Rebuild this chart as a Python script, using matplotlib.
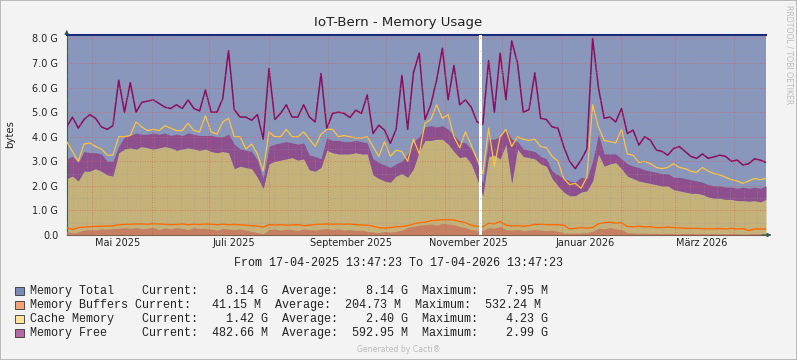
"""IoT-Bern memory usage graph (rrdtool / Cacti look) rebuilt with matplotlib."""

import datetime as dt

import numpy as np
import matplotlib

matplotlib.use("Agg")  # headless backend
import matplotlib.pyplot as plt
from matplotlib.patches import Rectangle

# ── data (values in G, evenly sampled over the whole year) ──────────────────
START = dt.datetime(2025, 4, 17, 13, 47, 23)
END = dt.datetime(2026, 4, 17, 13, 47, 23)
GAP = (dt.datetime(2025, 11, 18, 23, 0), dt.datetime(2025, 11, 20, 14, 0))

total_g = 8.14

# dark magenta line
free_max_g = [
    4.4, 4.8, 4.35, 4.7, 4.9, 4.75, 4.4, 4.3, 4.45, 6.3,
    5.0, 6.2, 5.0, 5.4, 5.45, 5.5, 5.35, 5.2, 5.15, 5.3,
    5.15, 5.5, 5.15, 5.05, 5.9, 5.0, 5.0, 5.55, 7.5, 5.1,
    4.8, 4.8, 4.67, 4.9, 3.9, 6.78, 4.7, 4.95, 5.3, 4.8,
    4.8, 5.3, 4.8, 4.6, 6.57, 4.34, 4.95, 5.0, 4.95, 4.78,
    5.08, 4.95, 5.7, 4.13, 4.47, 4.27, 3.73, 4.3, 6.5, 4.3,
    6.6, 7.4, 4.7, 5.3, 6.3, 7.6, 5.5, 6.9, 5.3, 5.5,
    5.2, 4.6, 4.5, 7.1, 5.0, 7.4, 5.5, 7.9, 7.0, 5.0,
    5.1, 6.6, 4.75, 4.7, 4.4, 4.35, 3.6, 3.0, 2.7, 3.05,
    3.5, 8.0, 6.0, 4.75, 4.8, 4.6, 5.15, 4.13, 4.27, 3.66,
    4.0, 3.86, 3.46, 3.4, 3.25, 3.52, 3.6, 3.4, 3.2, 3.12,
    3.3, 3.12, 3.18, 3.25, 3.2, 3.0, 3.05, 2.85, 2.9, 3.1,
    3.05, 2.95,
]

# yellow line
cache_max_g = [
    3.8, 3.4, 3.0, 3.7, 3.75, 3.6, 3.5, 3.25, 3.25, 4.0,
    4.0, 4.05, 4.6, 4.4, 4.25, 4.3, 4.25, 4.45, 4.35, 4.25,
    4.25, 4.55, 4.25, 4.2, 4.85, 4.2, 4.1, 4.6, 4.75, 4.0,
    4.0, 3.5, 3.7, 3.3, 2.6, 4.2, 4.0, 4.0, 4.3, 4.0,
    4.0, 4.2, 3.9, 3.6, 4.1, 4.3, 4.3, 4.0, 4.05, 4.0,
    3.95, 3.95, 4.0, 3.6, 3.2, 3.8, 3.2, 3.45, 3.4, 3.0,
    3.9, 3.3, 4.55, 4.7, 5.3, 4.75, 4.9, 4.0, 3.55, 4.2,
    3.65, 3.1, 2.5, 4.35, 2.8, 4.0, 4.3, 3.6, 4.0, 3.9,
    3.85, 3.9, 3.6, 3.55, 3.2, 3.0, 2.3, 2.05, 2.1, 1.9,
    2.35, 5.3, 4.4, 3.85, 3.8, 3.75, 4.3, 3.3, 3.25, 2.95,
    3.0, 2.9, 2.75, 2.7, 2.75, 2.9, 2.75, 2.7, 2.6, 2.55,
    2.75, 2.6, 2.5, 2.45, 2.35, 2.25, 2.2, 2.1, 2.2, 2.3,
    2.25, 2.3,
]

# top of the purple (free) band
free_top_g = [
    3.1, 3.2, 2.95, 3.4, 3.35, 3.35, 3.3, 3.0, 3.0, 3.6,
    4.0, 4.05, 4.15, 4.1, 4.1, 4.15, 4.1, 4.15, 4.05, 4.1,
    4.05, 4.15, 4.1, 4.05, 4.05, 4.05, 4.0, 4.0, 4.1, 3.7,
    3.5, 3.45, 3.4, 3.05, 2.3, 3.6, 3.7, 3.75, 3.8, 3.75,
    3.7, 3.75, 3.25, 3.2, 3.1, 3.95, 3.85, 3.85, 3.8, 3.8,
    3.85, 3.8, 3.75, 3.1, 2.95, 2.85, 2.75, 2.9, 3.0, 3.3,
    3.8, 4.0, 4.4, 4.45, 4.4, 4.45, 4.3, 4.05, 3.8, 3.75,
    3.5, 3.0, 2.1, 3.9, 3.9, 4.0, 4.3, 3.9, 3.8, 3.5,
    3.45, 3.4, 3.2, 3.1, 2.6, 2.45, 2.3, 2.2, 2.15, 2.35,
    2.3, 3.0, 4.1, 3.3, 3.3, 3.3, 3.1, 2.9, 2.8, 2.75,
    2.65, 2.6, 2.55, 2.5, 2.5, 2.35, 2.35, 2.3, 2.25, 2.2,
    2.15, 2.05, 2.0, 2.0, 1.95, 1.95, 1.9, 1.95, 1.9, 1.95,
    1.9, 2.0,
]

# top of the tan (cache) area
cache_g = [
    2.3, 2.4, 2.2, 2.6, 2.6, 2.7, 2.6, 2.45, 2.4, 3.35,
    3.5, 3.55, 3.5, 3.6, 3.55, 3.5, 3.55, 3.6, 3.55, 3.45,
    3.5, 3.55, 3.5, 3.45, 3.5, 3.4, 3.35, 3.4, 3.35, 2.7,
    2.8, 2.75, 2.7, 2.35, 1.9, 2.9, 3.0, 3.05, 3.1, 3.15,
    3.05, 3.1, 2.65, 2.6, 2.75, 3.45, 3.35, 3.3, 3.3, 3.3,
    3.35, 3.3, 3.3, 2.45, 2.3, 2.2, 2.15, 2.4, 2.5, 2.35,
    2.7, 3.4, 3.85, 3.85, 3.9, 3.9, 3.7, 3.4, 3.15, 3.2,
    2.9, 2.3, 1.6, 3.2, 3.25, 3.1, 3.7, 2.1, 3.5, 3.2,
    3.15, 3.1, 2.9, 2.8, 2.3, 2.0, 1.75, 1.6, 1.6, 1.75,
    1.8, 2.2, 3.3, 2.8, 2.9, 2.95, 2.7, 2.4, 2.3, 2.2,
    2.15, 2.1, 2.05, 2.0, 2.0, 1.85, 1.8, 1.75, 1.7, 1.7,
    1.65, 1.55, 1.5, 1.5, 1.45, 1.45, 1.4, 1.4, 1.38, 1.4,
    1.35, 1.45,
]

# orange line
buffers_max_g = [
    0.3, 0.22, 0.3, 0.32, 0.34, 0.35, 0.36, 0.36, 0.37, 0.42,
    0.43, 0.44, 0.45, 0.45, 0.44, 0.46, 0.45, 0.44, 0.42, 0.43,
    0.45, 0.42, 0.44, 0.43, 0.45, 0.44, 0.42, 0.44, 0.42, 0.43,
    0.42, 0.4, 0.38, 0.36, 0.32, 0.42, 0.41, 0.42, 0.4, 0.41,
    0.42, 0.38, 0.4, 0.43, 0.44, 0.45, 0.44, 0.45, 0.44, 0.45,
    0.42, 0.41, 0.4, 0.36, 0.3, 0.28, 0.3, 0.33, 0.35, 0.38,
    0.45, 0.5, 0.52, 0.58, 0.6, 0.62, 0.62, 0.61, 0.55, 0.5,
    0.4, 0.35, 0.33, 0.48, 0.45, 0.55, 0.4, 0.37, 0.38, 0.36,
    0.38, 0.43, 0.44, 0.42, 0.42, 0.42, 0.4, 0.25, 0.27, 0.3,
    0.28, 0.3, 0.45, 0.5, 0.52, 0.48, 0.5, 0.35, 0.33, 0.36,
    0.33, 0.34, 0.3, 0.3, 0.32, 0.3, 0.29, 0.28, 0.27, 0.27,
    0.26, 0.25, 0.25, 0.26, 0.24, 0.27, 0.24, 0.26, 0.18, 0.24,
    0.24, 0.25,
]

# brown (buffers) area
buffers_g = [
    0.15, 0.08, 0.12, 0.2, 0.22, 0.2, 0.25, 0.24, 0.26, 0.28,
    0.3, 0.27, 0.3, 0.25, 0.28, 0.3, 0.22, 0.29, 0.25, 0.3,
    0.27, 0.22, 0.3, 0.26, 0.28, 0.24, 0.2, 0.27, 0.25, 0.22,
    0.25, 0.2, 0.15, 0.1, 0.05, 0.22, 0.25, 0.2, 0.24, 0.22,
    0.18, 0.25, 0.22, 0.2, 0.24, 0.26, 0.22, 0.25, 0.2, 0.22,
    0.18, 0.2, 0.15, 0.12, 0.1, 0.14, 0.12, 0.15, 0.2, 0.3,
    0.35, 0.4, 0.42, 0.45, 0.4, 0.48, 0.45, 0.42, 0.35, 0.3,
    0.22, 0.2, 0.18, 0.3, 0.28, 0.35, 0.22, 0.2, 0.22, 0.18,
    0.2, 0.22, 0.2, 0.18, 0.2, 0.15, 0.08, 0.07, 0.08, 0.08,
    0.1, 0.15, 0.28, 0.25, 0.3, 0.25, 0.22, 0.1, 0.08, 0.07,
    0.08, 0.06, 0.07, 0.06, 0.07, 0.06, 0.05, 0.07, 0.06, 0.05,
    0.06, 0.05, 0.06, 0.05, 0.05, 0.06, 0.05, 0.04, 0.05, 0.06,
    0.05, 0.05,
]

x_labels = ["Mai 2025", "Juli 2025", "September 2025",
            "November 2025", "Januar 2026", "März 2026"]
x_label_dates = [dt.datetime(2025, 5, 14), dt.datetime(2025, 7, 14),
                 dt.datetime(2025, 9, 13), dt.datetime(2025, 11, 13),
                 dt.datetime(2026, 1, 13), dt.datetime(2026, 3, 15)]

legend_rows = [
    ("#7B8CB4", "Memory Total    Current:    8.14 G  Average:    8.14 G  Maximum:    7.95 M"),
    ("#F4A27C", "Memory Buffers Current:   41.15 M  Average:  204.73 M  Maximum:  532.24 M"),
    ("#FCE49A", "Cache Memory    Current:    1.42 G  Average:    2.40 G  Maximum:    4.23 G"),
    ("#B46AA6", "Memory Free     Current:  482.66 M  Average:  592.95 M  Maximum:    2.99 G"),
]


def day(d):
    return (d - START).total_seconds() / 86400.0


W, H = 797, 360
fig = plt.figure(figsize=(W / 100, H / 100), dpi=100, facecolor="#F3F3F3")
L, R, T, B = 66.7, 766.0, 35.0, 235.0
ax = fig.add_axes([L / W, 1 - B / H, (R - L) / W, (B - T) / H])
ax.set_facecolor("white")

x_end = day(END)
days = np.linspace(0, x_end, len(free_max_g))

# ── areas ───────────────────────────────────────────────────────────────────
ax.fill_between([0, x_end], 0, total_g, color="#8997BD", lw=0, zorder=1)
ax.fill_between(days, 0, cache_g, color="#C5B27B", lw=0, zorder=2)
ax.fill_between(days, cache_g, free_top_g, color="#8D4F8D", lw=0, zorder=2)
ax.fill_between(days, 0, buffers_g, color="#C77F61", lw=0, zorder=3)

# ── lines ───────────────────────────────────────────────────────────────────
ax.plot(days, free_max_g, color="#8B0D5E", lw=1.1, zorder=4)
ax.plot(days, cache_max_g, color="#FFC43D", lw=0.9, zorder=4)
ax.plot(days, buffers_max_g, color="#FF6A00", lw=1.0, zorder=4)
ax.plot([0, x_end], [total_g, total_g], color="#1B2A7A", lw=1.5, zorder=4,
        clip_on=False)

# data gap (unknown values)
ax.axvspan(day(GAP[0]), day(GAP[1]), color="white", lw=0, zorder=5)

# ── grid (rrdtool draws it above the data) ──────────────────────────────────
months = []
y, m = 2025, 5
while dt.datetime(y, m, 1) < END:
    months.append(day(dt.datetime(y, m, 1)))
    m += 1
    if m > 12:
        y, m = y + 1, 1
weeks = []
w = dt.datetime(2025, 4, 21)
while w < END:
    weeks.append(day(w))
    w += dt.timedelta(days=7)

dot = (0, (1, 2))
ax.vlines(weeks, 0, total_g, colors="#9A9A9A", lw=0.6, linestyles=dot,
          alpha=0.6, zorder=6)
ax.hlines(np.arange(0.5, 8.1, 1.0), 0, x_end, colors="#9A9A9A", lw=0.6,
          linestyles=dot, alpha=0.6, zorder=6)
ax.vlines(months, 0, total_g, colors="#E55050", lw=0.6, linestyles=dot,
          alpha=0.7, zorder=7)
ax.hlines(np.arange(1, 9), 0, x_end, colors="#E55050", lw=0.6,
          linestyles=dot, alpha=0.7, zorder=7)

ax.set_xlim(0, x_end)
ax.set_ylim(0, total_g)

ax.set_yticks(np.arange(0, 9))
ax.set_yticklabels(["0.0"] + [f"{v:.1f} G" for v in range(1, 9)])
ax.set_xticks([day(d) for d in x_label_dates])
ax.set_xticklabels(x_labels)
ax.tick_params(length=0, labelsize=7, colors="#222222")
ax.tick_params(axis="y", pad=6)
ax.tick_params(axis="x", pad=2.5)

for s in ("top", "right"):
    ax.spines[s].set_visible(False)
ax.spines["left"].set_color("#3C5A50")
ax.spines["bottom"].set_color("#404040")
ax.spines["left"].set_linewidth(0.8)
ax.spines["bottom"].set_linewidth(0.8)
ax.annotate("", xy=(0, 1.04), xytext=(0, 0.99), xycoords="axes fraction",
            arrowprops=dict(arrowstyle="-|>", color="#3C5A50", lw=0.8,
                            mutation_scale=6))
ax.annotate("", xy=(1.012, 0), xytext=(0.99, 0), xycoords="axes fraction",
            arrowprops=dict(arrowstyle="-|>", color="#3C5A50", lw=0.8,
                            mutation_scale=6))

# ── texts ───────────────────────────────────────────────────────────────────
fig.text(398.5 / W, 1 - 22.5 / H, "IoT-Bern - Memory Usage", ha="center",
         va="center", fontsize=9.6, color="#222222")
fig.text(10 / W, 1 - 134 / H, "bytes", rotation=90, ha="center", va="center",
         fontsize=7.3, color="#222222")
fig.text(789 / W, 1 - 5 / H, "RRDTOOL / TOBI OETIKER", rotation=270,
         ha="center", va="top", fontsize=5.6, color="#BBBBBB")

mono = dict(family="Liberation Mono", fontsize=8.5, color="#222222")
fig.text(398.5 / W, 1 - 262.7 / H,
         "From 17-04-2025 13:47:23 To 17-04-2026 13:47:23",
         ha="center", va="center", **mono)

for i, (col, line) in enumerate(legend_rows):
    yc = 290.7 + i * 14.0
    fig.patches.append(Rectangle((15.3 / W, 1 - (yc + 4.2) / H), 8.4 / W,
                                 8.4 / H, transform=fig.transFigure,
                                 facecolor=col, edgecolor="#333333", lw=0.6))
    fig.text(29.9 / W, 1 - yc / H, line, ha="left", va="center", **mono)

fig.text(398.5 / W, 1 - 349 / H, "Generated by Cacti®", ha="center",
         va="center", fontsize=5.6, color="#BBBBBB")

fig.patches.append(Rectangle((0, 0), 1, 1, transform=fig.transFigure,
                             fill=False, edgecolor="#B0B0B0", lw=1.2))

fig.savefig("out.png", dpi=100, facecolor=fig.get_facecolor())
plt.close(fig)
